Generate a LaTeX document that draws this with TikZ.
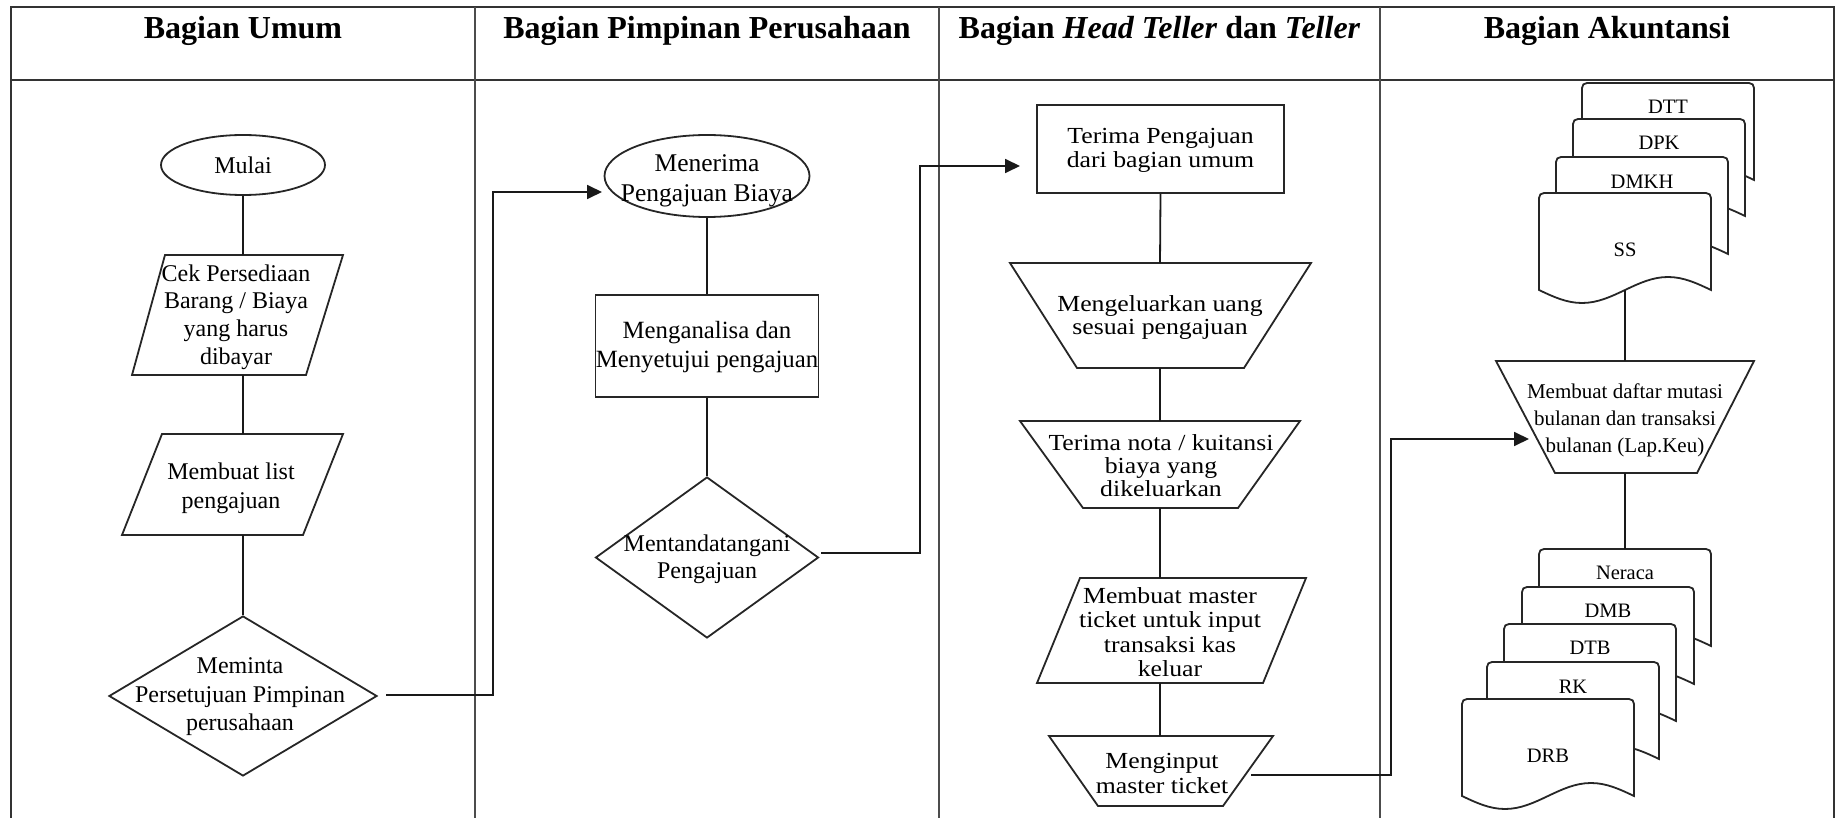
\documentclass[tikz,border=0pt]{standalone}
\usepackage{fontspec}
\setmainfont{Liberation Serif}
\newfontfamily\bodywide{Liberation Serif}[FakeStretch=1.12]
\usetikzlibrary{shapes.geometric,arrows.meta}

% A document sheet: name, left x, top y, label, label offset from the top
\newcommand\docsheet[5]{%
  \draw[outline, fill=white] (#2,#3+97) -- (#2,#3+5)
    .. controls (#2,#3+2) and (#2+2,#3) .. (#2+5,#3)
    -- (#2+167,#3)
    .. controls (#2+170,#3) and (#2+172,#3+2) .. (#2+172,#3+5)
    -- (#2+172,#3+97) sin (#2+129,#3+84) cos (#2+86,#3+97)
    sin (#2+43,#3+110) cos (#2,#3+97) -- cycle;
  \coordinate (#1-top) at (#2+86,#3);
  \coordinate (#1-bot) at (#2+86,#3+97);
  \node[doclabel] (#1) at (#2+86,#3+#5) {#4};
}

\begin{document}
\begin{tikzpicture}[x=1pt, y=-1pt,
  outline/.style={draw=black!85, line width=1.8pt, line join=miter},
  flow/.style={draw=black!90, line width=1.8pt},
  flowarrow/.style={flow, -{Triangle[length=15pt, width=14pt]}},
  headtext/.style={anchor=base, inner sep=0pt, font=\fontsize{32}{36}\selectfont\bfseries},
  body/.style={inner sep=0pt, align=center, text=black},
  doclabel/.style={inner sep=0pt, text=black, font=\fontsize{20.5}{24}\selectfont},
]
\useasboundingbox (0,0) rectangle (1841,818);

% swimlane table
\draw[line width=2.4pt, black!80] (11,818) -- (11,7) -- (1834,7) -- (1834,818);
\draw[line width=2.8pt, black!80] (11,80) -- (1834,80);
\draw[line width=1.1pt, black!70] (475,7) -- (475,818) (939,7) -- (939,818) (1380,7) -- (1380,818);

\node[headtext] (hUmum) at (243,39) {Bagian Umum};
\node[headtext] (hPimpinan) at (707,39) {Bagian Pimpinan Perusahaan};
\node[headtext] (hTeller) at (1159.5,39) {Bagian \textit{Head Teller} dan \textit{Teller}};
\node[headtext] (hAkuntansi) at (1607,39) {Bagian Akuntansi};

% ---- Bagian Umum
\node[outline, ellipse, minimum width=164pt, minimum height=60pt, body,
      font=\fontsize{24}{28}\selectfont] (mulai) at (243,165) {Mulai};

\draw[outline] (165,255) -- (343,255) -- (306,375) -- (132,375) -- cycle;
\coordinate (cek-n) at (243,255);
\coordinate (cek-s) at (243,375);
\node[body, font=\fontsize{24}{27.7}\selectfont] (cek) at (236,317)
  {Cek Persediaan\\Barang / Biaya\\yang harus\\dibayar};

\draw[outline] (162,434) -- (343,434) -- (303,535) -- (122,535) -- cycle;
\coordinate (list-n) at (243,434);
\coordinate (list-s) at (243,535);
\node[body, font=\fontsize{24}{29}\selectfont] (list) at (231,488) {Membuat list\\pengajuan};

\node[outline, diamond, minimum width=268pt, minimum height=160pt, inner sep=0pt] (meminta) at (243,696) {};
\node[body, font=\fontsize{24}{28.5}\selectfont] (meminta-t) at (240,697)
  {Meminta\\Persetujuan Pimpinan\\perusahaan};
\coordinate (meminta-out) at (386,695);

% ---- Bagian Pimpinan Perusahaan
\node[outline, ellipse, minimum width=205pt, minimum height=82pt, inner sep=0pt] (menerima) at (707,176) {};
\node[body, font=\fontsize{25.5}{30}\selectfont] (menerima-t) at (707,181) {Menerima\\Pengajuan Biaya};
\coordinate (menerima-in) at (602,192);

\node[outline, rectangle, minimum width=223pt, minimum height=102pt, inner sep=0pt] (analisa) at (707,346) {};
\node[body, font=\fontsize{24.8}{29}\selectfont] (analisa-t) at (707,347.5) {Menganalisa dan\\Menyetujui pengajuan};

\node[outline, diamond, minimum width=223pt, minimum height=161pt, inner sep=0pt] (tandatangan) at (707,557.5) {};
\node[body, font=\fontsize{24}{27}\selectfont] (tandatangan-t) at (707,559.5) {Mentandatangani\\Pengajuan};
\coordinate (tandatangan-out) at (821,553);

% ---- Bagian Head Teller dan Teller
\node[outline, rectangle, minimum width=247pt, minimum height=88pt, inner sep=0pt] (terima) at (1160.5,149) {};
\node[body, font=\bodywide\fontsize{23}{24}\selectfont] (terima-t) at (1160.5,150) {Terima Pengajuan\\dari bagian umum};
\coordinate (terima-in) at (1020,166);

\draw[outline] (1010,263) -- (1311,263) -- (1244,368) -- (1077,368) -- cycle;
\coordinate (keluar-n) at (1160,263);
\coordinate (keluar-s) at (1160,368);
\node[body, font=\bodywide\fontsize{23}{23.5}\selectfont] (keluar) at (1160,317.5) {Mengeluarkan uang\\sesuai pengajuan};

\draw[outline] (1020,421) -- (1300,421) -- (1238,508) -- (1083,508) -- cycle;
\coordinate (nota-n) at (1160,421);
\coordinate (nota-s) at (1160,508);
\node[body, font=\bodywide\fontsize{23}{23}\selectfont] (nota) at (1161,466) {Terima nota / kuitansi\\biaya yang\\dikeluarkan};

\draw[outline] (1080,578) -- (1306,578) -- (1263,683) -- (1037,683) -- cycle;
\coordinate (master-n) at (1160,578);
\coordinate (master-s) at (1160,683);
\node[body, font=\bodywide\fontsize{23}{24.5}\selectfont] (master) at (1170,632) {Membuat master\\ticket untuk input\\transaksi kas\\keluar};

\draw[outline] (1049,736) -- (1273,736) -- (1223,806) -- (1098,806) -- cycle;
\coordinate (input-n) at (1160,736);
\node[body, font=\bodywide\fontsize{23}{25}\selectfont] (input) at (1162,773) {Menginput\\master ticket};
\coordinate (input-out) at (1251,775);

% ---- Bagian Akuntansi
\draw[outline] (1496,361) -- (1754,361) -- (1697,473) -- (1555,473) -- cycle;
\coordinate (daftar-n) at (1625,361);
\coordinate (daftar-s) at (1625,473);
\coordinate (daftar-in) at (1529,439);
\node[body, font=\fontsize{21}{27}\selectfont] (daftar) at (1625,420)
  {Membuat daftar mutasi\\bulanan dan transaksi\\bulanan (Lap.Keu)};

% connectors
\draw[flow] (mulai.south) -- (cek-n);
\draw[flow] (cek-s) -- (list-n);
\draw[flow] (list-s) -- (meminta.north);
\draw[flowarrow] (meminta-out) -- ++(107,0) |- (menerima-in);
\draw[flow] (menerima.south) -- (analisa.north);
\draw[flow] (analisa.south) -- (tandatangan.north);
\draw[flowarrow] (tandatangan-out) -- ++(99,0) |- (terima-in);
\draw[flow] (terima.south) -- (keluar-n);
\draw[flow] (keluar-s) -- (nota-n);
\draw[flow] (nota-s) -- (master-n);
\draw[flow] (master-s) -- (input-n);
\draw[flowarrow] (input-out) -- ++(140,0) |- (daftar-in);

% document stacks, back to front
\docsheet{dtt}{1582}{83}{DTT}{24}
\docsheet{dpk}{1573}{119}{DPK}{24}
\docsheet{dmkh}{1556}{157}{DMKH}{25}
\docsheet{ss}{1539}{193}{SS}{57}
\draw[flow] (ss-bot) -- (daftar-n);

\docsheet{neraca}{1539}{549}{Neraca}{24}
\docsheet{dmb}{1522}{587}{DMB}{24}
\docsheet{dtb}{1504}{624}{DTB}{24}
\docsheet{rk}{1487}{662}{RK}{25}
\docsheet{drb}{1462}{699}{DRB}{57}
\draw[flow] (daftar-s) -- (neraca-top);

\end{tikzpicture}
\end{document}
